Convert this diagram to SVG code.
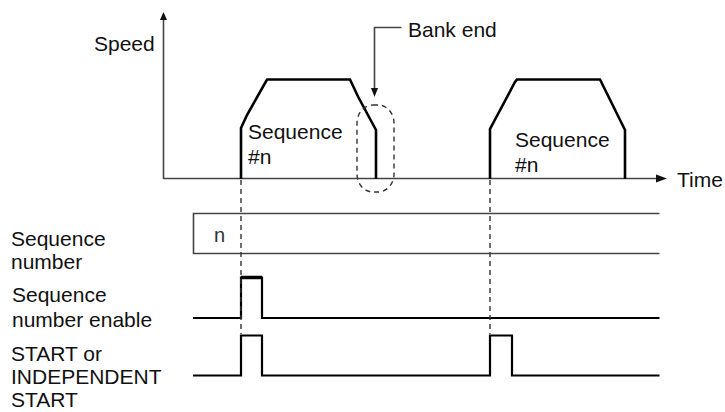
<svg xmlns="http://www.w3.org/2000/svg" width="725" height="412" viewBox="0 0 725 412">
<defs>
<style>
text{font-family:"Liberation Sans",Arial,sans-serif;font-size:21px;fill:#111}
.ax{stroke:#444;stroke-width:1.6;fill:none}
.sig{stroke:#000;stroke-width:2.2;fill:none;stroke-linejoin:miter}
.prof{stroke:#000;stroke-width:2.6;fill:none;stroke-linejoin:miter}
.dash{stroke:#333;stroke-width:1.4;fill:none;stroke-dasharray:5 4}
.head{fill:#111}
</style>
</defs>
<rect width="725" height="412" fill="#fff"/>
<g id="axes">
<line class="ax" x1="163.5" y1="19" x2="163.5" y2="179"/>
<polygon class="head" points="163.5,12 160,20 167,20"/>
<line class="ax" x1="163.5" y1="178.5" x2="657" y2="178.5"/>
<polygon class="head" points="667,178.5 656,174.5 656,182.5"/>
<text x="94" y="51">Speed</text>
<text x="677" y="187">Time</text>
</g>
<g id="profile1">
<polyline class="prof" points="241,179 241,128 247,115 267,79.5 350,79.5 358,96.5 376,130 376,179"/>
<text x="248" y="139">Sequence</text>
<text x="248" y="164">#n</text>
</g>
<g id="profile2">
<polyline class="prof" points="490,179 490,129 515,82 517,79.5 600,79.5 625,130 625,179"/>
<text x="515" y="147">Sequence</text>
<text x="515" y="172">#n</text>
</g>
<g id="bank-end">
<polyline class="ax" points="401.5,27.5 374.5,27.5 374.5,89"/>
<polygon class="head" points="374.5,97 371,88 378,88"/>
<rect class="dash" x="357" y="105" width="37" height="87" rx="16" ry="18"/>
<text x="408" y="37">Bank end</text>
</g>
<g id="seq-number">
<polyline class="ax" points="659.5,213.5 193.5,213.5 193.5,253.5 659.5,253.5"/>
<text x="214" y="242" style="font-size:20px;fill:#333">n</text>
<text x="11" y="246">Sequence</text>
<text x="11" y="269">number</text>
</g>
<g id="seq-enable">
<polyline class="sig" points="193,318 241,318 241,277.5 262,277.5 262,318 659.5,318"/>
<line x1="241" y1="277.5" x2="262" y2="277.5" stroke="#000" stroke-width="3.5"/>
<text x="12" y="302">Sequence</text>
<text x="12" y="327">number enable</text>
</g>
<g id="start">
<polyline class="sig" points="193,375.5 241,375.5 241,335.5 262,335.5 262,375.5 490,375.5 490,335.5 512,335.5 512,375.5 659.5,375.5"/>
<text x="11" y="361">START or</text>
<text x="11" y="384">INDEPENDENT</text>
<text x="11" y="407">START</text>
</g>
<g id="connectors">
<line class="dash" x1="241" y1="180" x2="241" y2="334"/>
<line class="dash" x1="490" y1="180" x2="490" y2="334"/>
</g>
</svg>
